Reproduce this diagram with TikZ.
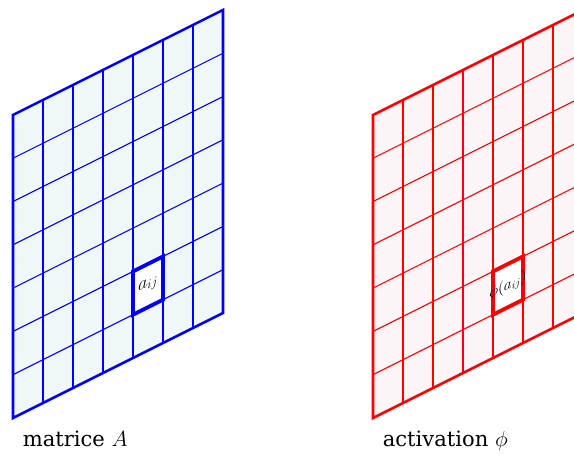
\documentclass[tikz,border=0pt]{standalone}
\usepackage{fontspec}
\setmainfont{DejaVu Serif}
\usetikzlibrary{positioning}

\begin{document}
\begin{tikzpicture}[
    gridline/.style={line width=1pt},
    frame/.style={line width=2.4pt, line join=miter},
    hilite/.style={line width=3.6pt, line join=miter},
    caption/.style={font=\fontsize{20}{24}\selectfont, inner sep=0pt, anchor=north west},
    entry/.style={font=\fontsize{18}{20}\selectfont, inner sep=0pt, transform shape}
]
    \useasboundingbox (0,0) rectangle (19.133,15.133);
    \clip (0,0) rectangle (19.133,15.133);

    % matrice A
    \begin{scope}[shift={(0.433,1.2)}, yslant=0.5, y=1.443cm]
        \fill[teal!6] (0,0) rectangle (7,7);
        \foreach \i in {1,...,6}
            \draw[gridline, draw=blue] (\i,0) -- (\i,7);
        \foreach \j in {1,...,6}
            \draw[gridline, draw=blue] (0,\j) -- (7,\j);
        \draw[frame, blue] (0,0) rectangle (7,7);
        \filldraw[hilite, draw=blue, fill=white] (4,1) rectangle (5,2);
        \node[entry] (aij) at (4.5,1.5) {$a_{ij}$};
        \coordinate (A-sw) at (0,0);
    \end{scope}

    % activation phi
    \begin{scope}[shift={(12.433,1.2)}, yslant=0.5, y=1.443cm]
        \fill[purple!4] (0,0) rectangle (7,7);
        \foreach \i in {1,...,6}
            \draw[gridline, draw=red] (\i,0) -- (\i,7);
        \foreach \j in {1,...,6}
            \draw[gridline, draw=red] (0,\j) -- (7,\j);
        \draw[frame, red] (0,0) rectangle (7,7);
        \filldraw[hilite, draw=red, fill=white] (4,1) rectangle (5,2);
        \node[entry, font=\fontsize{14}{16}\selectfont] (phiaij) at (4.5,1.5) {$\phi(a_{ij})$};
        \coordinate (P-sw) at (0,0);
    \end{scope}

    \node[caption, below right=0.42cm and 0.32cm of A-sw] (capA) {matrice $A$};
    \node[caption, below right=0.42cm and 0.32cm of P-sw] (capP) {activation $\phi$};
\end{tikzpicture}
\end{document}
